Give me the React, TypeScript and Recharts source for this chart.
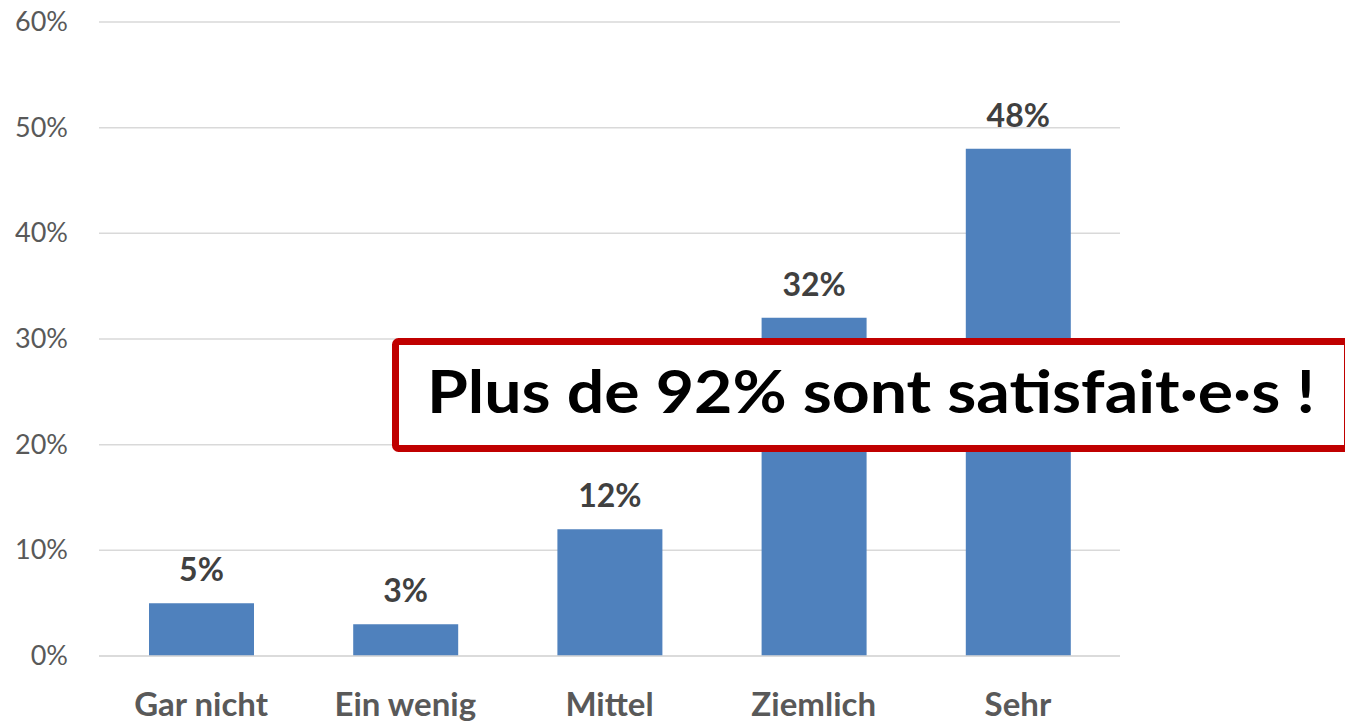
import { BarChart, Bar, XAxis, YAxis, CartesianGrid, LabelList } from "recharts"

const categories = ["Gar nicht", "Ein wenig", "Mittel", "Ziemlich", "Sehr"]
const shares = [5, 3, 12, 32, 48]
const yTicks = [0, 10, 20, 30, 40, 50, 60]
const callout = "Plus de 92% sont satisfait·e·s !"

const data = categories.map((name, i) => ({ name, value: shares[i] }))

const FONT = "Lato, 'Open Sans', sans-serif"

const XTick = ({ x, y, payload }: any) => (
  <text x={x} y={y + 60} textAnchor="middle" fontFamily={FONT} fontWeight={700} fontSize={33} fill="#595959">
    {payload.value}
  </text>
)

const YTick = ({ x, y, payload }: any) => (
  <text x={x} y={y} dy={9} textAnchor="end" fontFamily={FONT} fontSize={27} fill="#595959">
    {payload.value}%
  </text>
)

const BarValue = ({ x, y, width, value }: any) => (
  <text x={x + width / 2} y={y - 22} textAnchor="middle" fontFamily={FONT} fontWeight={700} fontSize={32} fill="#404040">
    {value}%
  </text>
)

export default function App() {
  return (
    <div style={{ position: "absolute", left: 0, top: 0, width: 1345, height: 722, background: "#fff", overflow: "hidden" }}>
      <BarChart width={1345} height={722} data={data} margin={{ top: 22, right: 225, bottom: 0, left: 0 }}>
        <CartesianGrid vertical={false} stroke="#d9d9d9" strokeWidth={1.5} />
        <XAxis
          dataKey="name"
          height={66}
          tickSize={0}
          tickMargin={0}
          tickLine={false}
          axisLine={{ stroke: "#d9d9d9", strokeWidth: 1.5 }}
          tick={<XTick />}
          interval={0}
        />
        <YAxis
          width={99}
          domain={[0, 60]}
          ticks={yTicks}
          tickSize={0}
          tickMargin={31}
          tickLine={false}
          axisLine={false}
          tick={<YTick />}
        />
        <Bar dataKey="value" fill="#4f81bd" barSize={105} isAnimationActive={false}>
          <LabelList dataKey="value" content={<BarValue />} />
        </Bar>
      </BarChart>
      <svg width={1345} height={722} style={{ position: "absolute", left: 0, top: 0, pointerEvents: "none" }}>
        <rect x={395.5} y={341.5} width={952} height={107} rx={3} fill="#ffffff" stroke="#c00000" strokeWidth={7} />
        <text
          x={871}
          y={413}
          textAnchor="middle"
          fontFamily={FONT}
          fontWeight={700}
          fontSize={60}
          fill="#000000"
          textLength={888}
          lengthAdjust="spacingAndGlyphs"
        >
          {callout}
        </text>
      </svg>
    </div>
  )
}
